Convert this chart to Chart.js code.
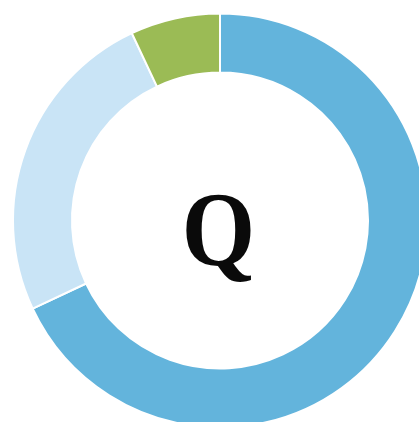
<!DOCTYPE html>
<html>
<head>
<meta charset="utf-8">
<script src="https://cdn.jsdelivr.net/npm/chart.js@4/dist/chart.umd.min.js"></script>
<style>
  html, body { margin: 0; padding: 0; background: #ffffff; overflow: hidden; }
  #wrap { position: relative; width: 419px; height: 422px; }
</style>
</head>
<body>
<div id="wrap"><canvas id="c" width="419" height="422"></canvas></div>
<script>
const categories = ['A', 'B', 'C'];
const values = [68, 25, 7];
const colors = ['#63b4dc', '#c9e4f6', '#9bbb55'];
const centerLabel = 'Q';

const centerText = {
  id: 'centerText',
  afterDatasetsDraw(chart) {
    const { ctx, chartArea } = chart;
    const cx = (chartArea.left + chartArea.right) / 2;
    const cy = (chartArea.top + chartArea.bottom) / 2;
    ctx.save();
    ctx.fillStyle = '#0a0a0a';
    ctx.font = 'bold 106px "Liberation Serif", "Times New Roman", serif';
    ctx.textAlign = 'center';
    ctx.textBaseline = 'alphabetic';
    ctx.translate(cx - 1.5, cy + 44.5);
    ctx.scale(0.89, 1);
    ctx.fillText(centerLabel, 0, 0);
    ctx.restore();
  }
};

function build() {
  new Chart(document.getElementById('c'), {
    type: 'doughnut',
    data: {
      labels: categories,
      datasets: [{
        data: values,
        backgroundColor: colors,
        borderColor: '#ffffff',
        borderWidth: 2,
        radius: 207,
        cutout: '71.5%'
      }]
    },
    options: {
      responsive: false,
      animation: false,
      layout: { padding: { left: 21, top: 19, right: 0, bottom: 0 } },
      plugins: {
        legend: { display: false },
        tooltip: { enabled: false }
      }
    },
    plugins: [centerText]
  });
}
if (document.fonts && document.fonts.load) {
  document.fonts.load('bold 106px "Liberation Serif"').then(build, build);
} else {
  build();
}
</script>
</body>
</html>
